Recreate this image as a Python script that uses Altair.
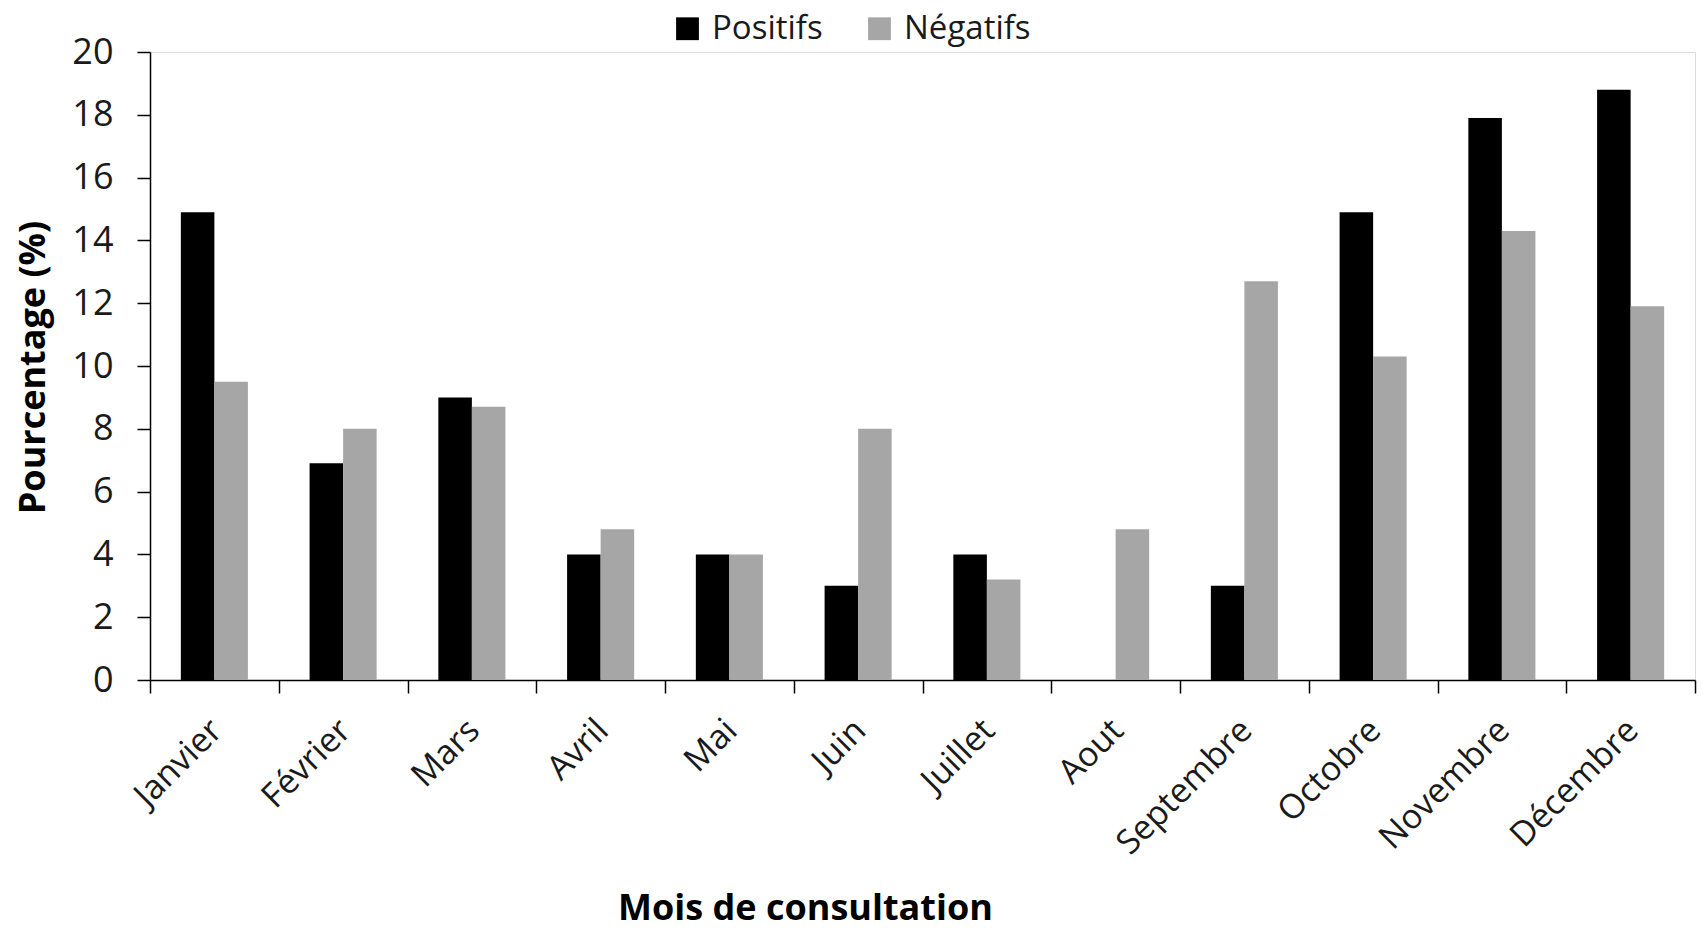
import altair as alt
import pandas as pd

# Monthly share of consultations (%), by test result
mois = ["Janvier", "Février", "Mars", "Avril", "Mai", "Juin", "Juillet",
        "Aout", "Septembre", "Octobre", "Novembre", "Décembre"]
positifs = [14.9, 6.9, 9.0, 4.0, 4.0, 3.0, 4.0, 0.0, 3.0, 14.9, 17.9, 18.8]
negatifs = [9.5, 8.0, 8.7, 4.8, 4.0, 8.0, 3.2, 4.8, 12.7, 10.3, 14.3, 11.9]
groupes = ["Positifs", "Négatifs"]
couleurs = ["#000000", "#a6a6a6"]
graduations = [0, 2, 4, 6, 8, 10, 12, 14, 16, 18, 20]

rows = []
for m, p, n in zip(mois, positifs, negatifs):
    rows.append({"mois": m, "groupe": groupes[0], "pct": p})
    rows.append({"mois": m, "groupe": groupes[1], "pct": n})
df = pd.DataFrame(rows)

FONT = "Open Sans"
TEXT = "#1a1a1a"

chart = alt.Chart(df).mark_bar().encode(
    x=alt.X(
        "mois:N",
        sort=mois,
        scale=alt.Scale(paddingInner=0, paddingOuter=0),
        axis=alt.Axis(
            title="Mois de consultation",
            titleFont=FONT, titleFontSize=36, titleFontWeight="bold",
            titleColor="#000000", titleX=655, titleY=239,
            titleBaseline="alphabetic", titleAnchor="start", titleAlign="center",
            labelAngle=-45, labelFont=FONT, labelFontSize=34, labelColor=TEXT,
            labelPadding=20, labelOffset=-10,
            tickBand="extent", tickSize=13, tickColor="#000000", tickWidth=1.5,
            domainColor="#000000", domainWidth=1.5,
        ),
    ),
    xOffset=alt.XOffset(
        "groupe:N", sort=groupes,
        scale=alt.Scale(paddingInner=0, paddingOuter=0.92),
    ),
    y=alt.Y(
        "pct:Q",
        scale=alt.Scale(domain=[0, 20], nice=False),
        axis=alt.Axis(
            title="Pourcentage (%)",
            values=graduations,
            titleFont=FONT, titleFontSize=36, titleFontWeight="bold",
            titleColor="#000000", titleX=-117, titleY=315,
            titleBaseline="middle", titleAlign="center",
            labelFont=FONT, labelFontSize=36, labelColor=TEXT, labelPadding=24,
            tickSize=13, tickColor="#000000", tickWidth=1.5,
            domainColor="#000000", domainWidth=1.5,
            grid=False,
        ),
    ),
    color=alt.Color(
        "groupe:N",
        sort=groupes,
        scale=alt.Scale(domain=groupes, range=couleurs),
        legend=alt.Legend(
            title=None, orient="none", legendX=521, legendY=-40,
            direction="horizontal", symbolType="square", symbolSize=520,
            symbolStrokeWidth=0, labelFont=FONT, labelFontSize=33,
            labelColor=TEXT, labelOffset=8, columnPadding=40,
        ),
    ),
).properties(
    width=1545,
    height=628,
    autosize=alt.AutoSizeParams(type="none"),
    padding={"left": 150, "top": 52, "right": 8, "bottom": 252},
).configure_view(stroke=None).configure(background="#ffffff")

chart.save("out.html", embed_options={"renderer": "svg", "actions": False})
